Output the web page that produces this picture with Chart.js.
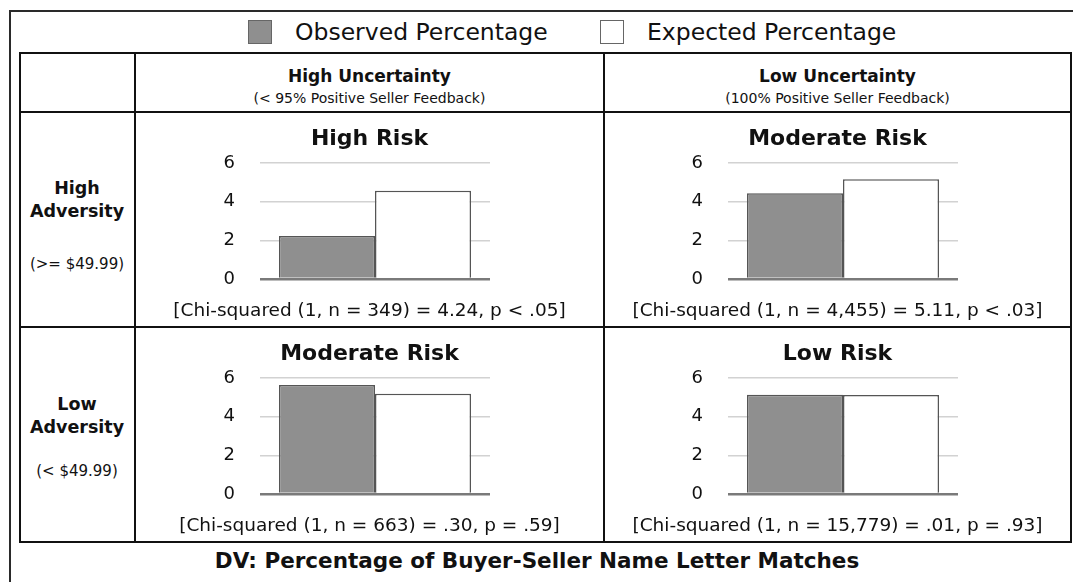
<!DOCTYPE html>
<html>
<head>
<meta charset="utf-8">
<script src="https://cdn.jsdelivr.net/npm/chart.js@4.4.1/dist/chart.umd.min.js"></script>
<style>
  html, body { margin: 0; padding: 0; background: #fff; }
  body { width: 1073px; height: 582px; position: relative; overflow: hidden; font-family: "DejaVu Sans", sans-serif; color: #111; }
  .line { position: absolute; background: #111; }
  .t { position: absolute; transform: translate(-50%, -50%); white-space: nowrap; }
  canvas { position: absolute; }
</style>
</head>
<body>
<div id="root"></div>
<script>
const seriesNames = ["Observed Percentage", "Expected Percentage"];
const panelTitles = ["High Risk", "Moderate Risk", "Moderate Risk", "Low Risk"];
const observed = [2.22, 4.43, 5.64, 5.13];
const expected = [4.57, 5.16, 5.19, 5.12];
const chiLabels = [
  "[Chi-squared (1, n = 349) = 4.24, p < .05]",
  "[Chi-squared (1, n = 4,455) = 5.11, p < .03]",
  "[Chi-squared (1, n = 663) = .30, p = .59]",
  "[Chi-squared (1, n = 15,779) = .01, p = .93]",
];
const yTicks = [0, 2, 4, 6];
const colHeads = ["High Uncertainty", "Low Uncertainty"];
const colSubs = ["(< 95% Positive Seller Feedback)", "(100% Positive Seller Feedback)"];
const rowHeads = [["High", "Adversity"], ["Low", "Adversity"]];
const rowSubs = ["(>= $49.99)", "(< $49.99)"];
const footer = "DV: Percentage of Buyer-Seller Name Letter Matches";

const obsColor = "#8f8f8f";
const expColor = "#ffffff";
const edgeColor = "#555555";

Chart.defaults.font.family = "DejaVu Sans";

const root = document.getElementById("root");

function box(x, y, w, h, css) {
  const d = document.createElement("div");
  d.className = "line";
  d.style.left = x + "px";
  d.style.top = y + "px";
  d.style.width = w + "px";
  d.style.height = h + "px";
  if (css) Object.assign(d.style, css);
  root.appendChild(d);
  return d;
}

function txt(x, y, text, size, weight) {
  const d = document.createElement("div");
  d.className = "t";
  d.style.left = x + "px";
  d.style.top = y + "px";
  d.style.fontSize = size + "px";
  d.style.fontWeight = weight || 400;
  d.textContent = text;
  root.appendChild(d);
  return d;
}

// outer frame (left + top)
box(9, 10, 2, 600, { background: "#2a2a2a" });
box(9, 10, 1100, 2, { background: "#2a2a2a" });

// table grid
box(19, 52, 1053, 2);
box(19, 541, 1053, 2);
box(19, 52, 2, 491);
box(1070, 52, 2, 491);
box(134, 52, 2, 491);
box(603, 52, 2, 491);
box(19, 111, 1053, 2);
box(19, 326, 1053, 2);

// legend
box(248, 20, 24, 24, { background: obsColor, border: "1px solid #666", boxSizing: "border-box" });
box(600, 20, 24, 24, { background: expColor, border: "1px solid #666", boxSizing: "border-box" });
[[295, seriesNames[0]], [647, seriesNames[1]]].forEach(([x, s]) => {
  const d = txt(x, 32, s, 23.5, 400);
  d.style.transform = "translate(0, -50%)";
});

// column headers
const colCenters = [369.5, 837.5];
colCenters.forEach((cx, i) => {
  txt(cx, 76, colHeads[i], 17, 700);
  txt(cx, 98, colSubs[i], 14, 400);
});

// row headers
[[188, 211, 264], [404, 427, 471]].forEach((ys, i) => {
  txt(77, ys[0], rowHeads[i][0], 17.5, 700);
  txt(77, ys[1], rowHeads[i][1], 17.5, 700);
  txt(77, ys[2], rowSubs[i], 15, 400);
});

// footer
txt(537, 560, footer, 21.5, 700);

// charts
const cells = [
  { x: 136, y: 113, w: 467, h: 213 },
  { x: 605, y: 113, w: 465, h: 213 },
  { x: 136, y: 328, w: 467, h: 213 },
  { x: 605, y: 328, w: 465, h: 213 },
];

function createChart(cell, i) {
  const c = document.createElement("canvas");
  c.width = cell.w;
  c.height = cell.h;
  c.style.left = cell.x + "px";
  c.style.top = cell.y + "px";
  root.appendChild(c);
  const plotLeft = i % 2 === 0 ? 124 : 123;
  const plotRight = i % 2 === 0 ? 354 : 353;
  new Chart(c.getContext("2d"), {
    type: "bar",
    data: {
      labels: [""],
      datasets: [
        { label: seriesNames[0], data: [observed[i]], backgroundColor: obsColor, borderColor: edgeColor, borderWidth: 1.5 },
        { label: seriesNames[1], data: [expected[i]], backgroundColor: expColor, borderColor: edgeColor, borderWidth: 1.5 },
      ],
    },
    options: {
      responsive: false,
      animation: false,
      layout: { padding: 0 },
      datasets: { bar: { categoryPercentage: 0.835, barPercentage: 1 } },
      plugins: {
        legend: { display: false },
        tooltip: { enabled: false },
        title: {
          display: true,
          text: panelTitles[i],
          color: "#111",
          font: { size: 22, weight: "bold" },
          padding: { top: 13, bottom: 10.6 },
        },
        subtitle: {
          display: true,
          position: "bottom",
          text: chiLabels[i],
          color: "#111",
          font: { size: 18.5 },
          padding: { top: 21, bottom: 3.8 },
        },
      },
      scales: {
        x: { display: false },
        y: {
          min: 0,
          max: 6,
          afterFit: (scale) => { scale.width = plotLeft; },
          afterBuildTicks: (scale) => { scale.ticks = yTicks.map((v) => ({ value: v })); },
          ticks: { color: "#111", padding: 25, font: { size: 18 } },
          border: { display: false },
          grid: {
            drawTicks: false,
            color: (ctx) => (ctx.tick && ctx.tick.value === 0 ? "#7a7a7a" : "#d2d2d2"),
            lineWidth: (ctx) => (ctx.tick && ctx.tick.value === 0 ? 2.5 : 1.5),
          },
        },
        // empty right-hand axis, only keeps the plot narrow like the original
        spacer: {
          type: "linear",
          position: "right",
          min: 0,
          max: 6,
          afterFit: (scale) => { scale.width = cell.w - plotRight; },
          ticks: { display: false },
          grid: { display: false },
          border: { display: false },
        },
      },
    },
  });
}

cells.forEach((cell, i) => createChart(cell, i));
</script>
</body>
</html>
